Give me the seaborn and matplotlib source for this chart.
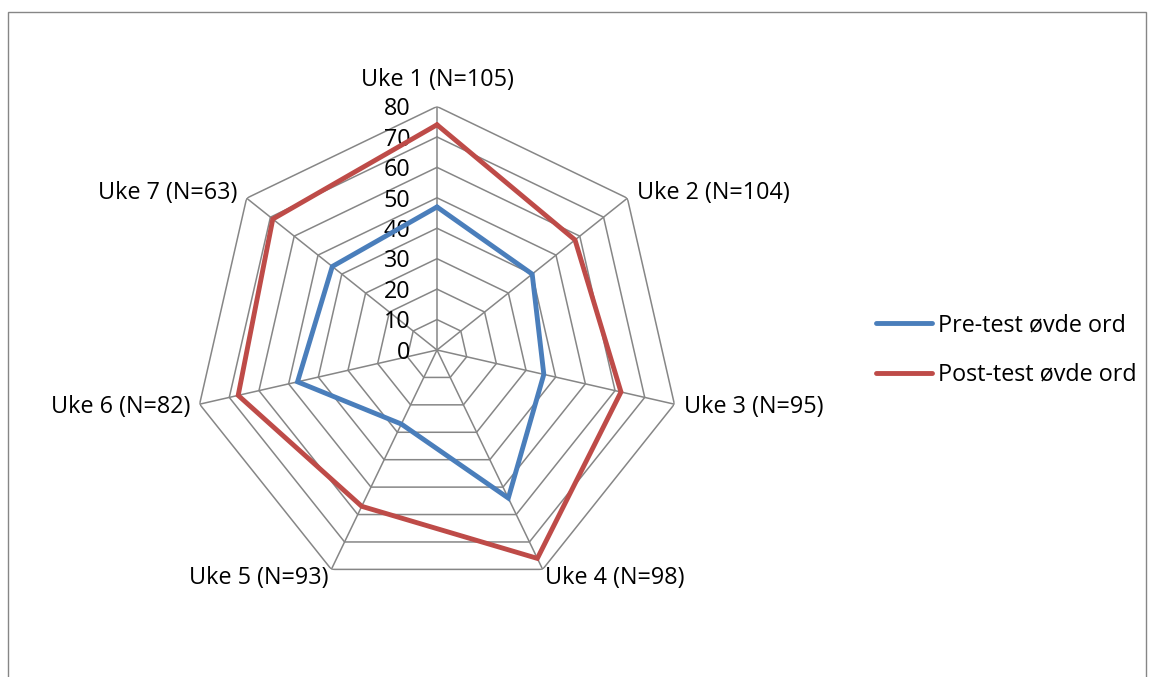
import numpy as np
import matplotlib
matplotlib.use("Agg")
import matplotlib.pyplot as plt
import seaborn as sns
from matplotlib.patches import Rectangle

sns.set_theme(style="white")
plt.rcParams["font.family"] = ["Open Sans", "DejaVu Sans"]
plt.rcParams["text.color"] = "black"

# Weekly categories and scores
categories = ["Uke 1 (N=105)", "Uke 2 (N=104)", "Uke 3 (N=95)", "Uke 4 (N=98)",
              "Uke 5 (N=93)", "Uke 6 (N=82)", "Uke 7 (N=63)"]
pre_test = [47, 40, 36, 54, 27, 47, 44]
post_test = [74, 58, 62, 76, 57, 67, 69]
series_names = ["Pre-test øvde ord", "Post-test øvde ord"]
radial_ticks = [0, 10, 20, 30, 40, 50, 60, 70, 80]

palette = sns.color_palette(["#4A7EBB", "#BE4B48"])
grid_color = "#868686"
FS = 16.8

n = len(categories)
theta = np.linspace(0, 2 * np.pi, n, endpoint=False)
theta_closed = np.append(theta, theta[0])

W, H = 1149, 677
fig = plt.figure(figsize=(W / 100, H / 100), dpi=100)

# chart-area frame
fig.patches.append(Rectangle((8 / W, -0.05), (1146 - 8) / W, (H - 12) / H + 0.05,
                             transform=fig.transFigure, fill=False,
                             edgecolor=grid_color, linewidth=1.0))

cx, cy, R = 437, 350, 243.5
ax = fig.add_axes([(cx - R) / W, (H - cy - R) / H, 2 * R / W, 2 * R / H],
                  projection="polar")
ax.set_theta_offset(np.pi / 2)
ax.set_theta_direction(-1)
ax.set_ylim(0, radial_ticks[-1])
ax.grid(False)
ax.spines["polar"].set_visible(False)
ax.set_xticks([])
ax.set_yticks([])
ax.patch.set_alpha(0)

# polygonal web
for r in radial_ticks[1:]:
    ax.plot(theta_closed, [r] * (n + 1), color=grid_color, lw=1.1, zorder=1)
for t in theta:
    ax.plot([t, t], [0, radial_ticks[-1]], color=grid_color, lw=1.1, zorder=1)

# radial value labels along the first spoke
for r in radial_ticks:
    ax.annotate(str(r), xy=(0, r), xytext=(-19, -2), textcoords="offset points",
                ha="right", va="center", fontsize=FS, color="black", zorder=3)

# data series
for vals, name, col in zip([pre_test, post_test], series_names, palette):
    v = list(vals) + [vals[0]]
    ax.plot(theta_closed, v, color=col, lw=3.5, label=name, zorder=4,
            solid_joinstyle="miter")

# category labels outside the web
offsets = [(0, 19, "center", "center"), (7, 4, "left", "center"),
           (7, -2, "left", "center"), (2, -6, "left", "center"),
           (-2, -6, "right", "center"), (-7, -2, "right", "center"),
           (-7, 4, "right", "center")]
for t, lab, (dx, dy, ha, va) in zip(theta, categories, offsets):
    ax.annotate(lab, xy=(t, radial_ticks[-1]), xytext=(dx, dy),
                textcoords="offset points", ha=ha, va=va, fontsize=FS,
                color="black", annotation_clip=False)

handles, labels = ax.get_legend_handles_labels()
leg = fig.legend(handles, labels, loc="center left",
                 bbox_to_anchor=(876 / W, 1 - 350 / H),
                 frameon=False, fontsize=FS, handlelength=2.4, handletextpad=0.25,
                 labelspacing=1.1, borderpad=0, borderaxespad=0)
for txt in leg.get_texts():
    txt.set_color("black")

fig.savefig("out.png", dpi=100)
